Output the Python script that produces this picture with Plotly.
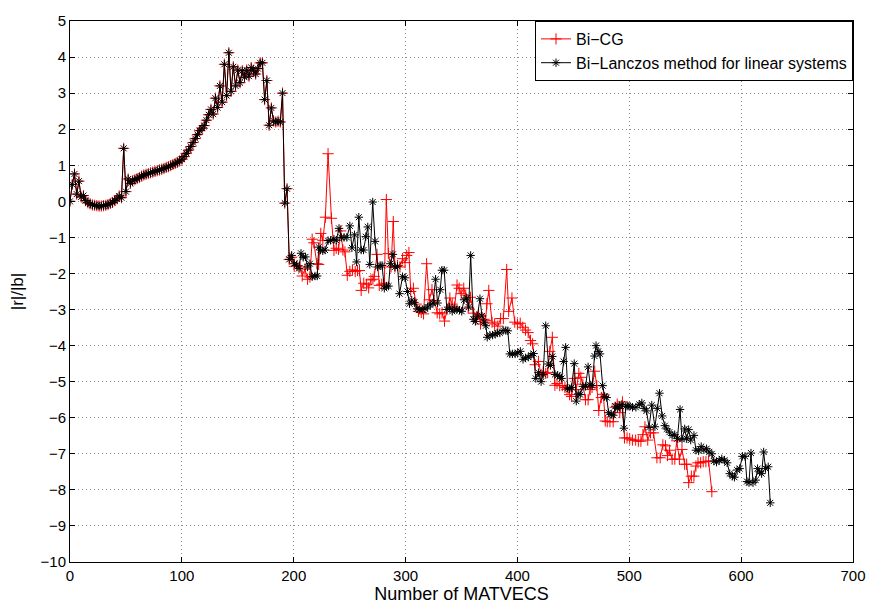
import plotly.graph_objects as go

# Shared part (both methods identical up to ~196 MATVECS)
shared_x = [0, 2, 4, 6, 8, 10, 12, 14, 16, 18, 20, 22, 24, 26, 28, 30, 32, 34, 36, 38,
            40, 42, 44, 46, 48, 50, 52, 54, 56, 58, 60, 62, 64, 66, 68, 70, 72, 74, 76, 78,
            80, 82, 84, 86, 88, 90, 92, 94, 96, 98, 100, 102, 104, 106, 108, 110, 112, 114,
            116, 118, 120, 122, 124, 126, 128, 130, 132, 134, 136, 138, 140, 142, 144, 146,
            148, 150, 152, 154, 156, 158, 160, 162, 164, 166, 168, 170, 172, 174, 176, 178,
            180, 182, 184, 186, 188, 190, 192, 194, 196]
shared_y = [0.0, 0.47, 0.76, 0.2, 0.56, 0.12, 0.16, 0.02, -0.04, -0.07, -0.1, -0.11, -0.12,
            -0.13, -0.13, -0.12, -0.11, -0.09, -0.06, -0.03, 0.02, 0.07, 0.15, 0.1, 1.47,
            0.27, 0.62, 0.5, 0.57, 0.6, 0.63, 0.66, 0.7, 0.73, 0.75, 0.77, 0.79, 0.81, 0.83,
            0.85, 0.87, 0.89, 0.91, 0.94, 0.96, 0.99, 1.02, 1.05, 1.08, 1.12, 1.17, 1.24,
            1.33, 1.42, 1.52, 1.63, 1.74, 1.85, 1.96, 2.03, 2.1, 2.25, 2.4, 2.55, 2.42, 2.86,
            2.6, 3.2, 2.75, 3.8, 2.93, 4.12, 3.05, 3.73, 3.2, 3.64, 3.29, 3.62, 3.44, 3.64,
            3.47, 3.71, 3.62, 3.53, 3.68, 3.84, 3.84, 2.82, 3.35, 2.11, 2.59, 2.23, 2.2,
            2.22, 2.2, 3.0, -0.05, 0.35, -1.61]

# Bi-CG after divergence
bicg_x_tail = [198, 200.5, 203, 205.6, 207.6, 210, 212.4, 214.5, 216.5, 218, 220.7, 222.3,
               224.2, 226, 228.3, 230.7, 233.7, 236, 238, 240, 242, 244, 245.8, 247.9, 250.2,
               252.5, 255, 257, 258.8, 260.3, 262.6, 265, 267, 269.1, 270.8, 272, 274.5,
               276.5, 278.7, 281, 282.8, 284.6, 287, 289, 290.5, 292.8, 295, 297.3, 299.5,
               301, 303, 304.6, 307, 309.5, 311.5, 314, 316, 318.8, 321.2, 323.6, 325.5,
               328.3, 330.5, 332.6, 334.8, 337, 339.6, 341.7, 343.8, 346, 347.9, 349.7, 352,
               353.8, 356, 358, 361, 363.5, 365.3, 367, 370, 371.5, 372.7, 374.4, 377.3,
               379.6, 382.5, 385, 387.4, 390.4, 392.2, 395.1, 397.6, 400, 402.5, 404.8,
               407.2, 409.6, 411.7, 413.6, 415.9, 418.8, 421.2, 423, 425.3, 427, 428.9,
               431.2, 433.5, 435.4, 437.8, 440.1, 442.5, 444.3, 446.6, 448.4, 450.8, 452.6,
               454.9, 456.7, 458.5, 460.8, 463.2, 465, 466.7, 469.1, 470.9, 472.7, 475,
               476.8, 478.5, 480.3, 482.7, 485.6, 487.4, 489.2, 491.5, 493.9, 495.7, 498,
               500.4, 502.8, 505.7, 508.1, 510.4, 512.2, 514, 516.5, 519, 521.7, 524.7,
               527.6, 530, 532.4, 534.2, 536, 538.3, 540.7, 542.4, 544.8, 547.1, 549.5,
               551.3, 553.1, 555.5, 557.8, 559.6, 561.4, 563.8, 566.1, 568.5, 570.9, 573.8]
bicg_y_tail = [-1.55, -1.8, -1.78, -1.82, -2.07, -1.88, -2.16, -2.1, -1.05, -1.15, -1.73,
               -1.75, -0.89, -1.08, -0.44, 1.32, -0.47, -1.36, -1.3, -1.33, -0.82, -1.35,
               -1.4, -2.05, -1.94, -1.9, -1.95, -1.92, -1.92, -2.47, -2.27, -2.3, -2.4,
               -2.18, -2.16, -2.08, -1.47, -2.33, -2.3, -2.27, 0.05, -1.45, -1.82, -0.56,
               -1.82, -1.78, -1.82, -1.59, -1.7, -1.5, -1.42, -2.5, -2.41, -2.85, -3.05,
               -3.08, -3.12, -1.73, -2.73, -2.45, -2.75, -3.09, -3.12, -3.09, -3.32, -3.0,
               -2.68, -2.85, -2.93, -2.32, -2.41, -2.56, -2.41, -2.6, -2.96, -2.66, -3.1,
               -3.2, -3.13, -3.4, -3.27, -3.3, -2.84, -2.47, -3.35, -3.4, -3.46, -3.25,
               -3.25, -1.89, -3.05, -2.68, -3.35, -3.4, -3.38, -3.49, -3.57, -3.64, -3.86,
               -3.95, -4.53, -4.44, -4.82, -4.73, -4.77, -4.75, -4.16, -3.77, -5.1, -5.05,
               -5.11, -5.11, -5.16, -5.22, -5.36, -5.41, -4.91, -5.22, -4.77, -4.88, -5.07,
               -5.5, -5.5, -5.22, -5.16, -4.71, -5.11, -5.8, -5.44, -5.35, -6.09, -6.11,
               -6.11, -6.11, -5.71, -5.62, -5.86, -5.56, -6.56, -6.56, -6.59, -6.62, -6.62,
               -6.65, -6.65, -6.47, -6.25, -6.62, -6.42, -6.42, -7.11, -7.11, -6.75, -6.78,
               -7.05, -6.9, -7.15, -7.15, -6.64, -7.15, -6.88, -7.29, -7.29, -7.8, -7.62,
               -7.62, -7.34, -7.25, -7.25, -7.22, -7.22, -7.2, -8.05]

# Bi-Lanczos after divergence
lanc_x_tail = [198.2, 200.5, 202.5, 204.7, 206.5, 208.5, 210.5, 212.4, 214.5, 216.5, 219,
               221, 222.4, 224, 226, 228, 230.7, 233, 236, 238, 240.5, 242.5, 245, 247.5,
               250.2, 252, 254.4, 256.2, 258.2, 260.3, 262.4, 264.4, 266.2, 268, 270.6,
               272.7, 275, 277.3, 279, 281, 283, 284.8, 286.3, 288.7, 290.5, 292.8, 294.6,
               297.3, 299.5, 301.7, 303.5, 305.5, 307.9, 310.3, 312.6, 315, 317.4, 319.7,
               322.1, 324.5, 326.8, 328.6, 331, 332.5, 334.5, 336.9, 339.3, 341.7, 344,
               345.8, 348.2, 350.2, 352.3, 354.7, 356.4, 358.2, 360.6, 362.4, 364.2, 366.5,
               368.3, 370.1, 371.8, 373, 375.4, 377.8, 380.1, 381.9, 384.3, 387.2, 389.6,
               391.4, 393.2, 395.5, 397.9, 400.3, 402.6, 405, 407.3, 409.7, 412.1, 414.4,
               416.4, 418.8, 421.2, 423, 425.3, 427.7, 429.5, 431.2, 433.6, 436, 437.8,
               439.5, 441.3, 443.1, 444.9, 446.6, 448.4, 450.8, 452.6, 454.4, 456.1, 458.5,
               460.9, 463.2, 465, 466.8, 468.9, 470.3, 472.1, 473.8, 476.2, 478, 479.8,
               481.5, 483.9, 485.7, 487.5, 489.3, 491.1, 493.4, 495.2, 497, 498.8, 500.6,
               502.9, 505.9, 508.9, 511.2, 513.3, 515.4, 517.7, 520.1, 522.9, 525, 527,
               529.4, 531.8, 533.5, 535.9, 538.3, 540.6, 543, 545.4, 547.1, 549.5, 551.3,
               553.1, 554.9, 557.8, 559.6, 562, 564.3, 566.7, 569.1, 571.4, 573.8, 575.6,
               578, 580.4, 582.7, 585.1, 587.5, 589.8, 592.2, 594, 596.4, 598.7, 601.1,
               603.5, 605.2, 607, 608.8, 610.6, 613, 614.7, 616.5, 618.3, 620.1, 621.8,
               624.2, 626]
lanc_y_tail = [-1.5, -1.73, -1.77, -1.86, -1.44, -1.55, -1.54, -1.82, -1.73, -2.09, -2.07,
               -2.07, -1.27, -1.35, -1.37, -1.35, -1.09, -1.08, -1.05, -1.08, -0.75, -1.0,
               -1.0, -1.0, -0.68, -1.29, -0.93, -1.68, -0.44, -1.35, -1.35, -0.98, -0.71,
               -1.75, -0.02, -1.11, -1.82, -1.78, -1.78, -2.41, -2.35, -2.35, -1.73, -1.47,
               -1.82, -1.8, -2.56, -2.09, -2.12, -2.5, -2.84, -2.74, -2.8, -2.98, -3.0,
               -3.0, -2.98, -2.93, -2.87, -2.82, -2.16, -2.82, -2.45, -1.91, -1.91, -3.0,
               -2.93, -3.05, -2.98, -3.0, -3.02, -3.05, -2.73, -2.68, -2.93, -1.5, -3.27,
               -3.33, -3.18, -2.7, -3.18, -3.35, -3.45, -3.77, -3.71, -3.71, -3.68, -3.65,
               -3.65, -3.58, -3.58, -3.59, -4.23, -4.23, -4.23, -4.2, -4.16, -4.38, -4.34,
               -4.32, -4.27, -4.22, -4.91, -4.75, -5.0, -4.8, -3.45, -4.51, -4.55, -4.3,
               -4.8, -4.82, -4.86, -4.91, -4.44, -4.05, -5.18, -5.2, -5.16, -4.5, -5.54,
               -5.34, -5.36, -5.13, -5.13, -4.59, -5.09, -5.11, -4.29, -4.0, -4.16, -4.23,
               -5.11, -5.41, -5.44, -5.86, -5.91, -5.93, -5.68, -5.74, -5.68, -5.63, -6.29,
               -5.68, -5.68, -5.68, -5.71, -5.71, -5.63, -5.59, -5.74, -5.81, -6.27, -5.65,
               -6.25, -5.74, -5.32, -5.95, -6.22, -6.31, -6.4, -6.49, -6.47, -6.58, -5.77,
               -6.6, -6.31, -6.58, -6.33, -6.62, -6.49, -6.9, -6.92, -6.8, -6.89, -6.86,
               -6.95, -7.0, -7.2, -7.23, -7.18, -7.14, -7.18, -7.25, -7.55, -7.62, -7.65,
               -7.45, -7.41, -7.07, -7.07, -7.77, -7.8, -6.98, -7.8, -7.73, -7.41, -7.5,
               -7.55, -6.95, -7.41, -7.36, -8.36]

series_names = ["Bi\u2212CG", "Bi\u2212Lanczos method for linear systems"]
x_ticks = [0, 100, 200, 300, 400, 500, 600, 700]
y_ticks = list(range(-10, 6))

bicg_x = shared_x + bicg_x_tail
bicg_y = shared_y + bicg_y_tail
lanc_x = shared_x + lanc_x_tail
lanc_y = shared_y + lanc_y_tail

fig = go.Figure()
fig.add_trace(go.Scatter(
    x=bicg_x, y=bicg_y, name=series_names[0], mode="lines+markers",
    line=dict(color="#ff0000", width=1),
    marker=dict(symbol="cross-thin-open", size=8, color="#ff0000",
                line=dict(color="#ff0000", width=1)),
))
fig.add_trace(go.Scatter(
    x=lanc_x, y=lanc_y, name=series_names[1], mode="lines+markers",
    line=dict(color="#000000", width=1),
    marker=dict(symbol="asterisk-open", size=7, color="#000000",
                line=dict(color="#000000", width=1)),
))

axis_common = dict(
    showline=True, linecolor="black", linewidth=1, mirror="ticks",
    ticks="inside", ticklen=5, tickcolor="black",
    showgrid=True, gridcolor="#8c8c8c", gridwidth=1, griddash="1px,3px",
    zeroline=False, tickfont=dict(size=15, color="black"),
)

fig.update_xaxes(range=[0, 700], tickvals=x_ticks,
                 title=dict(text="Number of MATVECS", font=dict(size=18, color="black"), standoff=3),
                 **axis_common)
fig.update_yaxes(range=[-10, 5], tickvals=y_ticks,
                 title=dict(text="|r|/|b|", font=dict(size=17, color="black"), standoff=12),
                 **axis_common)

fig.update_layout(
    width=878, height=612,
    margin=dict(l=70, r=20, t=18, b=45),
    paper_bgcolor="white", plot_bgcolor="white",
    font=dict(family="Liberation Sans, Arial, sans-serif", color="black"),
    showlegend=True,
    legend=dict(x=1, y=1, xanchor="right", yanchor="top",
                bgcolor="white", bordercolor="black", borderwidth=1,
                font=dict(size=16, color="black"),
                itemwidth=30, tracegroupgap=0),
)

fig.write_html("out.html")
